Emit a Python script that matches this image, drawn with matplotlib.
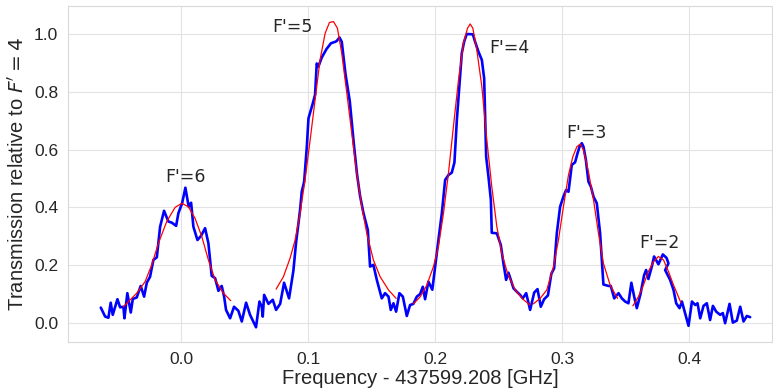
import numpy as np
import seaborn as sns
from matplotlib import pyplot as plt

# measured transmission (blue)
freq = [-0.0632, -0.0598, -0.0572, -0.0554, -0.0538, -0.0501, -0.0480, -0.0454, -0.0446, -0.0423,
        -0.0396, -0.0380, -0.0349, -0.0318, -0.0291, -0.0270, -0.0244, -0.0218, -0.0191, -0.0165,
        -0.0134, -0.0100, -0.0073, -0.0039, -0.0021, 0.0008, 0.0034, 0.0060, 0.0079, 0.0097,
        0.0129, 0.0157, 0.0189, 0.0215, 0.0241, 0.0268, 0.0294, 0.0320, 0.0339, 0.0354,
        0.0386, 0.0417, 0.0451, 0.0478, 0.0512, 0.0543, 0.0590, 0.0617, 0.0635, 0.0643,
        0.0654, 0.0688, 0.0722, 0.0748, 0.0780, 0.0811, 0.0850, 0.0884, 0.0906, 0.0937,
        0.0950, 0.0969, 0.0990, 0.1003, 0.1037, 0.1055, 0.1068, 0.1081, 0.1108, 0.1145,
        0.1180, 0.1213, 0.1226, 0.1247, 0.1265, 0.1295, 0.1328, 0.1360, 0.1385, 0.1409,
        0.1436, 0.1470, 0.1488, 0.1514, 0.1541, 0.1580, 0.1606, 0.1633, 0.1651, 0.1672,
        0.1693, 0.1719, 0.1746, 0.1777, 0.1803, 0.1829, 0.1856, 0.1882, 0.1903, 0.1921,
        0.1947, 0.1978, 0.2000, 0.2026, 0.2053, 0.2079, 0.2105, 0.2131, 0.2152, 0.2171,
        0.2192, 0.2210, 0.2228, 0.2249, 0.2297, 0.2315, 0.2341, 0.2368, 0.2386, 0.2402,
        0.2420, 0.2439, 0.2446, 0.2486, 0.2517, 0.2538, 0.2559, 0.2577, 0.2596, 0.2617,
        0.2643, 0.2669, 0.2690, 0.2717, 0.2748, 0.2780, 0.2806, 0.2832, 0.2858, 0.2888,
        0.2915, 0.2937, 0.2958, 0.2984, 0.3010, 0.3031, 0.3050, 0.3076, 0.3102, 0.3121,
        0.3137, 0.3155, 0.3168, 0.3187, 0.3207, 0.3226, 0.3247, 0.3273, 0.3299, 0.3325,
        0.3365, 0.3383, 0.3410, 0.3444, 0.3470, 0.3496, 0.3522, 0.3545, 0.3570, 0.3588,
        0.3617, 0.3645, 0.3661, 0.3679, 0.3706, 0.3724, 0.3758, 0.3793, 0.3822, 0.3837,
        0.3811, 0.3850, 0.3877, 0.3898, 0.3924, 0.3943, 0.3995, 0.4022, 0.4048, 0.4066,
        0.4087, 0.4113, 0.4139, 0.4165, 0.4187, 0.4213, 0.4244, 0.4265, 0.4283, 0.4318,
        0.4344, 0.4375, 0.4402, 0.4428, 0.4454, 0.4480]
trans = [0.053, 0.022, 0.018, 0.070, 0.028, 0.082, 0.054, 0.056, 0.016, 0.103,
         0.036, 0.083, 0.088, 0.128, 0.091, 0.139, 0.160, 0.218, 0.227, 0.333,
         0.388, 0.351, 0.347, 0.336, 0.380, 0.414, 0.468, 0.402, 0.416, 0.333,
         0.287, 0.301, 0.328, 0.276, 0.163, 0.155, 0.111, 0.128, 0.091, 0.045,
         0.016, 0.056, 0.042, 0.005, 0.070, 0.028, -0.015, 0.074, 0.056, 0.022,
         0.097, 0.066, 0.080, 0.045, 0.066, 0.139, 0.085, 0.180, 0.281, 0.391,
         0.454, 0.489, 0.610, 0.708, 0.760, 0.790, 0.898, 0.887, 0.919, 0.948,
         0.968, 0.973, 0.976, 0.988, 0.973, 0.860, 0.768, 0.620, 0.515, 0.440,
         0.380, 0.322, 0.195, 0.201, 0.149, 0.085, 0.103, 0.091, 0.045, 0.068,
         0.039, 0.103, 0.091, 0.024, 0.062, 0.066, 0.091, 0.100, 0.125, 0.082,
         0.143, 0.115, 0.195, 0.287, 0.380, 0.495, 0.512, 0.520, 0.555, 0.702,
         0.829, 0.933, 0.973, 1.000, 0.999, 0.973, 0.939, 0.910, 0.847, 0.575,
         0.506, 0.426, 0.312, 0.310, 0.270, 0.206, 0.149, 0.174, 0.149, 0.120,
         0.108, 0.097, 0.085, 0.103, 0.045, 0.105, 0.117, 0.056, 0.082, 0.095,
         0.170, 0.189, 0.310, 0.402, 0.437, 0.460, 0.454, 0.547, 0.556, 0.587,
         0.610, 0.622, 0.610, 0.564, 0.489, 0.472, 0.437, 0.414, 0.310, 0.133,
         0.128, 0.128, 0.085, 0.103, 0.085, 0.074, 0.068, 0.139, 0.085, 0.051,
         0.100, 0.165, 0.183, 0.152, 0.195, 0.230, 0.203, 0.237, 0.225, 0.206,
         0.183, 0.149, 0.114, 0.068, 0.051, 0.074, -0.010, 0.074, 0.062, 0.068,
         0.016, 0.059, 0.068, 0.010, 0.059, 0.039, 0.028, 0.034, -0.001, 0.066,
         0.001, 0.008, 0.056, 0.005, 0.024, 0.020]

# fitted peaks (red), one segment per hyperfine line
fit_f6_x = [-0.0454, -0.0349, -0.0283, -0.0231, -0.0178, -0.0113, -0.0047, 0.0006, 0.0057,
            0.0110, 0.0163, 0.0215, 0.0268, 0.0333, 0.0391]
fit_f6_y = [0.056, 0.103, 0.143, 0.201, 0.276, 0.351, 0.400, 0.414, 0.402,
            0.362, 0.299, 0.218, 0.149, 0.103, 0.077]
fit_f5_x = [0.0748, 0.0806, 0.0858, 0.0898, 0.0937, 0.0976, 0.1016, 0.1055, 0.1094, 0.1134,
            0.1168, 0.1200, 0.1231, 0.1265, 0.1305, 0.1344, 0.1383, 0.1423, 0.1462, 0.1514,
            0.1567, 0.1633, 0.1693]
fit_f5_y = [0.117, 0.160, 0.224, 0.287, 0.380, 0.495, 0.633, 0.772, 0.910, 1.002,
            1.040, 1.043, 1.020, 0.933, 0.795, 0.656, 0.518, 0.402, 0.310, 0.218,
            0.160, 0.114, 0.085]
fit_f4_x = [0.1829, 0.1882, 0.1934, 0.1987, 0.2026, 0.2066, 0.2105, 0.2144, 0.2184, 0.2223,
            0.2255, 0.2276, 0.2297, 0.2328, 0.2368, 0.2407, 0.2446, 0.2486, 0.2525, 0.2570,
            0.2630, 0.2696, 0.2748]
fit_f4_y = [0.066, 0.090, 0.130, 0.195, 0.264, 0.380, 0.518, 0.679, 0.841, 0.968,
            1.020, 1.035, 1.020, 0.945, 0.818, 0.633, 0.472, 0.333, 0.241, 0.172,
            0.114, 0.080, 0.062]
fit_f3_x = [0.2774, 0.2827, 0.2879, 0.2932, 0.2971, 0.3010, 0.3050, 0.3084, 0.3116, 0.3142,
            0.3168, 0.3207, 0.3247, 0.3286, 0.3325, 0.3378, 0.3436]
fit_f3_y = [0.066, 0.085, 0.114, 0.195, 0.287, 0.402, 0.512, 0.575, 0.610, 0.619,
            0.599, 0.524, 0.426, 0.310, 0.206, 0.131, 0.085]
fit_f2_x = [0.3557, 0.3601, 0.3640, 0.3679, 0.3720, 0.3758, 0.3798, 0.3837, 0.3877, 0.3935]
fit_f2_y = [0.059, 0.091, 0.131, 0.178, 0.212, 0.230, 0.218, 0.178, 0.131, 0.070]

labels = ["F'=6", "F'=5", "F'=4", "F'=3", "F'=2"]
label_x = [-0.0126, 0.0717, 0.2425, 0.3030, 0.3606]
label_y = [0.488, 1.007, 0.934, 0.640, 0.260]

sns.set_style("whitegrid", {'grid.color': '0.89', 'axes.edgecolor': '0.85'})
plt.rcParams['font.family'] = 'Liberation Sans'
plt.rcParams['xtick.labelsize'] = 12.5
plt.rcParams['ytick.labelsize'] = 12.5
plt.rcParams['axes.labelsize'] = 14.5

fig = plt.figure(figsize=(7.73, 3.92), dpi=100)
ax = fig.add_axes([0.088, 0.1276, 0.911, 0.8571])

ax.plot(freq, trans, color='blue', linewidth=1.9)
for fx, fy in [(fit_f6_x, fit_f6_y), (fit_f5_x, fit_f5_y), (fit_f4_x, fit_f4_y),
               (fit_f3_x, fit_f3_y), (fit_f2_x, fit_f2_y)]:
    ax.plot(fx, fy, color='red', linewidth=0.9)

for t, x, y in zip(labels, label_x, label_y):
    ax.text(x, y, t, fontsize=12.5, family='DejaVu Sans')

ax.set_xlim(-0.089, 0.4654)
ax.set_ylim(-0.066, 1.097)
ax.set_xticks([0.0, 0.1, 0.2, 0.3, 0.4])
ax.set_yticks([0.0, 0.2, 0.4, 0.6, 0.8, 1.0])
ax.set_xlabel("Frequency - 437599.208 [GHz]", labelpad=2)
ax.set_ylabel(r"Transmission relative to $F' = 4$", labelpad=4)

fig.savefig("out.png", dpi=100)
